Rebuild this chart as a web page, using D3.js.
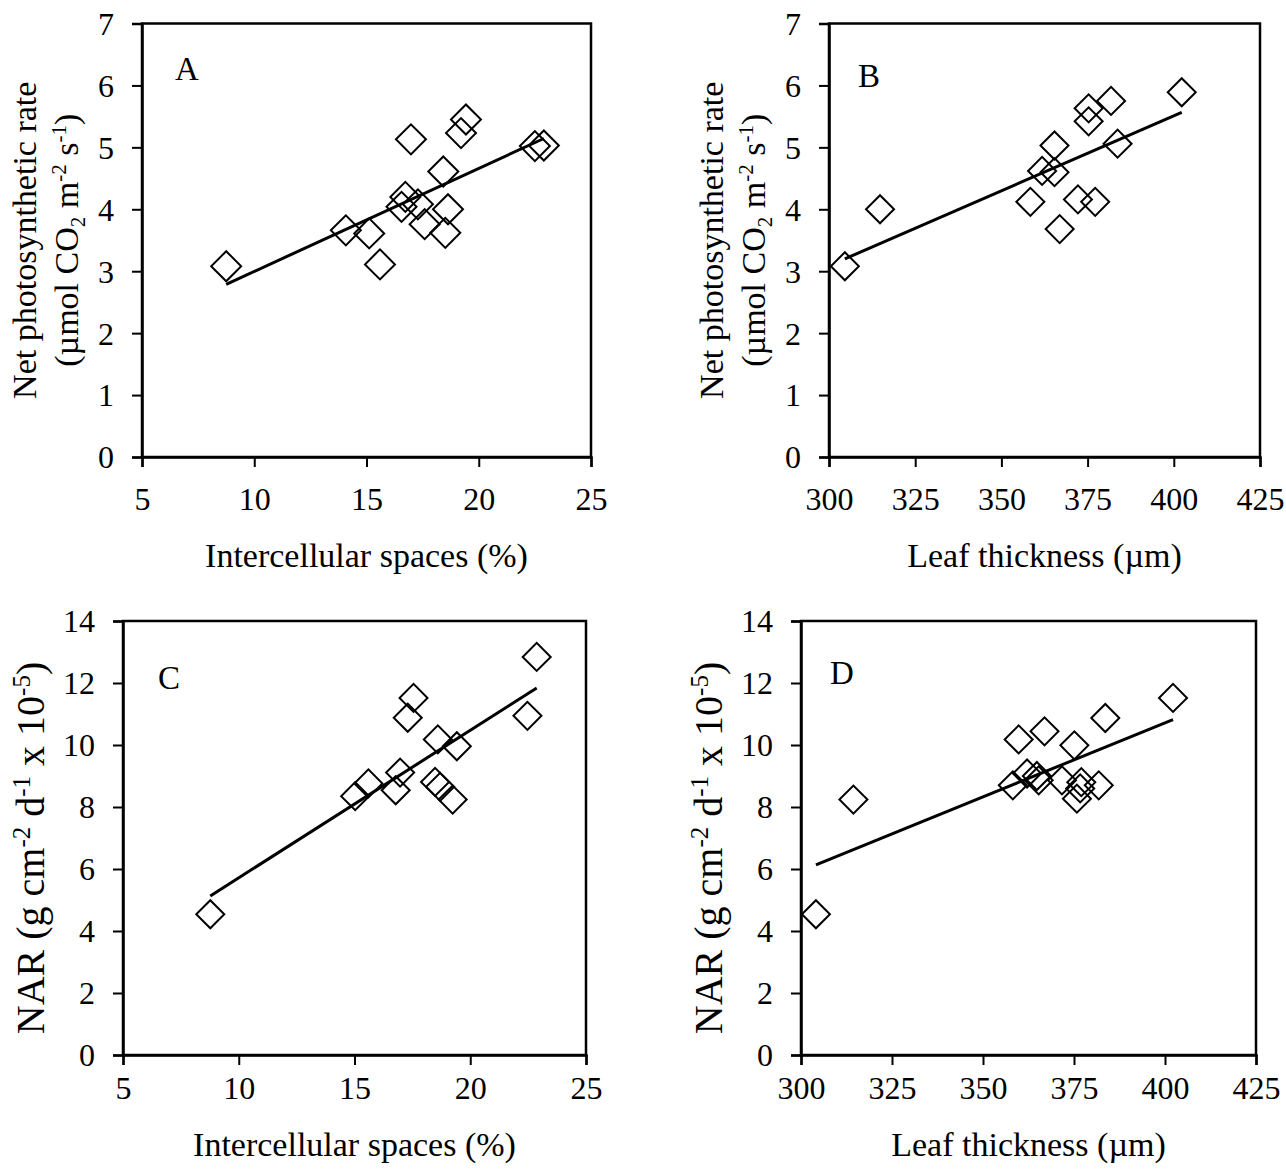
<!DOCTYPE html>
<html>
<head>
<meta charset="utf-8">
<script src="https://cdn.jsdelivr.net/npm/d3@7/dist/d3.min.js"></script>
<style>
  html, body { margin: 0; padding: 0; background: #fff; }
  svg { display: block; }
  text { font-family: "Liberation Serif", "Times New Roman", serif; fill: #000; }
</style>
</head>
<body>
<svg id="fig" width="1286" height="1169"></svg>
<script>
// Panel A: intercellular spaces (%) vs net photosynthetic rate
const spacesA = [8.75, 14.08, 15.12, 15.6, 16.98, 16.73, 16.56, 17.29, 17.59, 18.42, 18.63, 18.51, 19.43, 19.21, 22.5, 22.9];
const photoA  = [3.08, 3.66, 3.61, 3.11, 5.13, 4.20, 4.04, 4.08, 3.76, 4.61, 4.00, 3.62, 5.45, 5.23, 5.02, 5.03];

// Panel B: leaf thickness (µm) vs net photosynthetic rate
const thicknessB = [304.6, 314.8, 358.4, 361.8, 365.4, 365.4, 366.9, 372.2, 377.2, 375.3, 375.3, 381.8, 383.7, 402.3];
const photoB     = [3.08, 4.00, 4.12, 4.62, 5.03, 4.60, 3.68, 4.16, 4.12, 5.42, 5.63, 5.75, 5.06, 5.89];

// Panel C: intercellular spaces (%) vs NAR
const spacesC = [8.77, 15.03, 15.60, 16.78, 16.97, 17.30, 17.55, 18.48, 18.60, 18.70, 19.24, 19.42, 22.47, 22.87];
const narC    = [4.54, 8.35, 8.76, 8.54, 9.11, 10.88, 11.52, 8.81, 10.18, 8.65, 8.24, 9.96, 10.94, 12.84];

// Panel D: leaf thickness (µm) vs NAR
const thicknessD = [304.1, 314.4, 358.2, 359.8, 362.1, 364.8, 365.3, 366.9, 371.7, 375.1, 375.8, 376.7, 377.0, 381.8, 383.6, 402.2];
const narD       = [4.54, 8.24, 8.70, 10.18, 9.08, 9.00, 8.86, 10.44, 8.86, 9.99, 8.27, 8.60, 8.80, 8.70, 10.87, 11.52];

// Tick values
const ticksSpaces    = [5, 10, 15, 20, 25];
const ticksThickness = [300, 325, 350, 375, 400, 425];
const ticksPhoto     = [0, 1, 2, 3, 4, 5, 6, 7];
const ticksNAR       = [0, 2, 4, 6, 8, 10, 12, 14];

// Axis titles as runs of text; "sup"/"sub" mark raised or lowered runs
const titleSpaces    = [{t: "Intercellular spaces (%)"}];
const titleThickness = [{t: "Leaf thickness (µm)"}];
const titlePhoto1    = [{t: "Net photosynthetic rate"}];
const titlePhoto2    = [{t: "(µmol CO"}, {t: "2", s: "sub"}, {t: " m"}, {t: "-2", s: "sup"}, {t: " s"}, {t: "-1", s: "sup"}, {t: ")"}];
const titleNAR       = [{t: "NAR (g cm"}, {t: "-2", s: "sup"}, {t: " d"}, {t: "-1", s: "sup"}, {t: " x 10"}, {t: "-5", s: "sup"}, {t: ")"}];

const svg = d3.select("#fig");

// Layout of each panel: plot box, title placement and marker size
const panels = [
  {letter: "A", xs: spacesA, ys: photoA, xDom: [5, 25], yDom: [0, 7], xt: ticksSpaces, yt: ticksPhoto,
   xTitle: titleSpaces, yTitles: [titlePhoto1, titlePhoto2],
   box: {l: 142, r: 591, t: 23.5, b: 457}, yTitleBase: [-106, -64], yTitleShift: 0, yTitleFont: 34,
   xPad: 19, xTitleDy: 110, letterPos: [45, 45], mk: 15},
  {letter: "B", xs: thicknessB, ys: photoB, xDom: [300, 425], yDom: [0, 7], xt: ticksThickness, yt: ticksPhoto,
   xTitle: titleThickness, yTitles: [titlePhoto1, titlePhoto2],
   box: {l: 829, r: 1260, t: 23.5, b: 457}, yTitleBase: [-106, -64], yTitleShift: 0, yTitleFont: 34,
   xPad: 19, xTitleDy: 110, letterPos: [40, 52], mk: 14},
  {letter: "C", xs: spacesC, ys: narC, xDom: [5, 25], yDom: [0, 14], xt: ticksSpaces, yt: ticksNAR,
   xTitle: titleSpaces, yTitles: [titleNAR],
   box: {l: 123, r: 586, t: 621, b: 1055}, yTitleBase: [-79], yTitleShift: 10, yTitleFont: 40,
   xPad: 10, xTitleDy: 101, letterPos: [46, 57], mk: 14},
  {letter: "D", xs: thicknessD, ys: narD, xDom: [300, 425], yDom: [0, 14], xt: ticksThickness, yt: ticksNAR,
   xTitle: titleThickness, yTitles: [titleNAR],
   box: {l: 801, r: 1256, t: 621, b: 1055}, yTitleBase: [-79], yTitleShift: 10, yTitleFont: 40,
   xPad: 10, xTitleDy: 101, letterPos: [41, 52], mk: 14}
];

// Write a run list into a text element, shifting sub/superscripts
function richText(sel, runs, size) {
  const small = Math.round(size * 0.62);
  let shift = 0;
  runs.forEach(r => {
    const target = r.s === "sup" ? -size * 0.36 : r.s === "sub" ? size * 0.2 : 0;
    sel.append("tspan")
      .attr("dy", target - shift)
      .attr("font-size", r.s ? small : size)
      .text(r.t);
    shift = target;
  });
}

// Ordinary least-squares fit
function fit(xs, ys) {
  const n = xs.length;
  const mx = d3.mean(xs), my = d3.mean(ys);
  let sxy = 0, sxx = 0;
  for (let i = 0; i < n; i++) {
    sxy += (xs[i] - mx) * (ys[i] - my);
    sxx += (xs[i] - mx) * (xs[i] - mx);
  }
  const slope = sxy / sxx;
  return x => my + slope * (x - mx);
}

const tickFont = 32, titleFont = 34;

panels.forEach(p => {
  const b = p.box;
  const x = d3.scaleLinear().domain(p.xDom).range([b.l, b.r]);
  const y = d3.scaleLinear().domain(p.yDom).range([b.b, b.t]);
  const g = svg.append("g");

  // Frame around the plot area
  g.append("rect")
    .attr("x", b.l).attr("y", b.t)
    .attr("width", b.r - b.l).attr("height", b.b - b.t)
    .attr("fill", "none").attr("stroke", "#000").attr("stroke-width", 2.5);

  // Axes
  const xAxis = d3.axisBottom(x).tickValues(p.xt).tickSize(10).tickPadding(p.xPad).tickFormat(d3.format("d"));
  const yAxis = d3.axisLeft(y).tickValues(p.yt).tickSize(10).tickPadding(18).tickFormat(d3.format("d"));

  const gx = g.append("g").attr("transform", `translate(0,${b.b})`).call(xAxis);
  const gy = g.append("g").attr("transform", `translate(${b.l},0)`).call(yAxis);
  [gx, gy].forEach(a => {
    a.select(".domain").attr("stroke", "#000").attr("stroke-width", 2.5);
    a.selectAll(".tick line").attr("stroke", "#000").attr("stroke-width", 2);
    a.selectAll(".tick text")
      .attr("font-family", "Liberation Serif, Times New Roman, serif")
      .attr("font-size", tickFont).attr("fill", "#000");
  });
  gx.selectAll(".tick text").attr("dy", "0.75em");
  gy.selectAll(".tick text").attr("dy", "0.34em");

  // Regression line across the observed range
  const f = fit(p.xs, p.ys);
  const [x0, x1] = d3.extent(p.xs);
  g.append("line")
    .attr("x1", x(x0)).attr("y1", y(f(x0)))
    .attr("x2", x(x1)).attr("y2", y(f(x1)))
    .attr("stroke", "#000").attr("stroke-width", 3);

  // Open diamond markers
  const sym = d3.symbol().type(d3.symbolSquare).size(2 * p.mk * p.mk);
  g.selectAll("path.pt")
    .data(p.xs.map((v, i) => [v, p.ys[i]]))
    .join("path")
    .attr("class", "pt")
    .attr("d", sym)
    .attr("transform", d => `translate(${x(d[0])},${y(d[1])}) rotate(45)`)
    .attr("fill", "none").attr("stroke", "#000").attr("stroke-width", 2);

  // Panel letter
  g.append("text")
    .attr("x", b.l + p.letterPos[0]).attr("y", b.t + p.letterPos[1])
    .attr("text-anchor", "middle").attr("dominant-baseline", "central")
    .attr("font-size", 33).text(p.letter);

  // X axis title
  const xt = g.append("text")
    .attr("x", (b.l + b.r) / 2).attr("y", b.b + p.xTitleDy)
    .attr("text-anchor", "middle").attr("font-size", titleFont);
  richText(xt, p.xTitle, titleFont);

  // Y axis title (one or two rotated lines)
  const cy = (b.t + b.b) / 2 + p.yTitleShift;
  p.yTitles.forEach((runs, i) => {
    const tx = b.l + p.yTitleBase[i];
    const t = g.append("text")
      .attr("transform", `translate(${tx},${cy}) rotate(-90)`)
      .attr("text-anchor", "middle").attr("font-size", p.yTitleFont);
    richText(t, runs, p.yTitleFont);
  });
});
</script>
</body>
</html>
